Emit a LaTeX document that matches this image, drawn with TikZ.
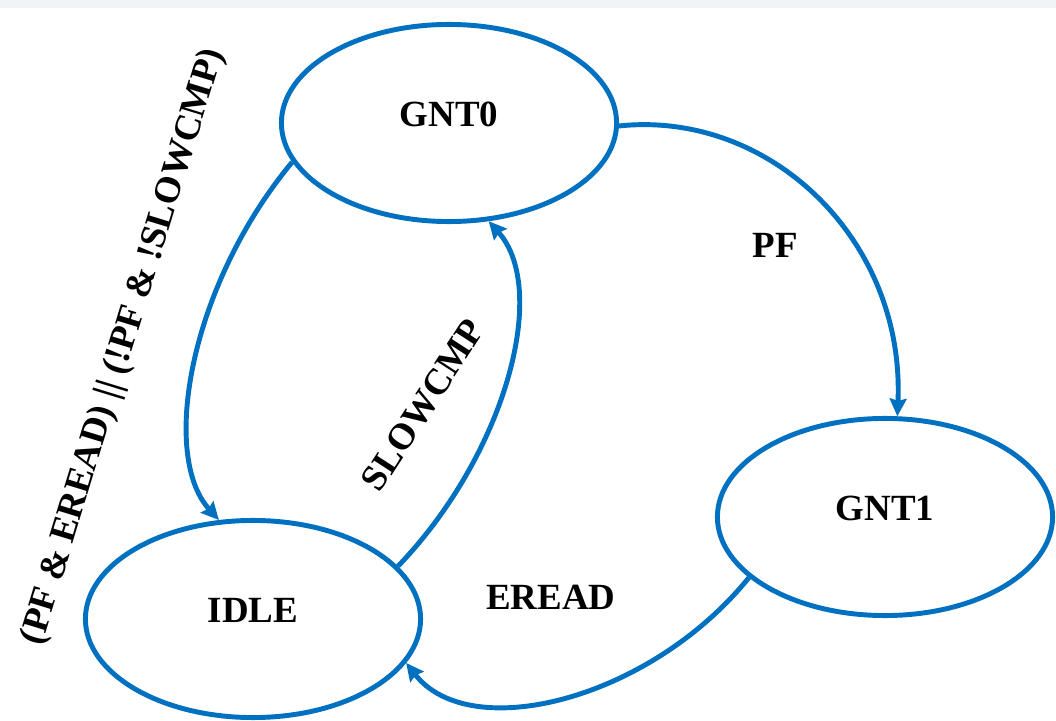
\documentclass[tikz,border=0pt]{standalone}
\usepackage{fontspec}
\setmainfont{Liberation Serif}
\usetikzlibrary{shapes.geometric}
\usetikzlibrary{arrows.meta}
\definecolor{fsmblue}{RGB}{0,112,192}
\definecolor{topbar}{RGB}{242,243,245}

\begin{document}
\begin{tikzpicture}[x=0.01cm,y=-0.01cm,
      statenode/.style={draw=fsmblue,line width=1.4pt,ellipse,inner sep=0pt,
        minimum width=3.35cm,minimum height=1.97cm,text depth=0.18cm,
        font=\fontsize{10.5}{12}\selectfont\bfseries},
      translabel/.style={font=\fontsize{10.5}{12}\selectfont\bfseries,inner sep=0pt},
      transition/.style={draw=fsmblue,line width=1.4pt,
        -{Stealth[length=5pt,width=4.8pt,inset=0.6pt]}}]
      \useasboundingbox (0,0) rectangle (1056,721);
      \fill[topbar] (0,0) rectangle (1056,8);

      % States
      \node[statenode] (gnt0) at (449,123) {GNT0};
      \node[statenode] (gnt1) at (885,517) {GNT1};
      \node[statenode] (idle) at (253,619) {IDLE};

      % Transitions
      \draw[transition] (gnt0.194.7) .. controls (190,285) and (160,455) .. (idle.109.4);
      \draw[transition] (idle.20.3) .. controls (505,455) and (550,290) .. (gnt0.292);
      \draw[transition] (gnt0.-1.2) .. controls (770,110) and (905,240) .. (gnt1.83.6);
      \draw[transition] (gnt1.204.2) .. controls (650,700) and (470,745) .. (idle.-16.4);

      % Labels
      \node[translabel] (pflabel) at (775,245) {PF};
      \node[translabel] (ereadlabel) at (551,597) {EREAD};
      \node[translabel,rotate=57] (slowlabel) at (423,405) {SLOWCMP};
      \node[translabel,rotate=73] (idlelabel) at (124,347) {(PF \& EREAD) || (!PF \& !SLOWCMP)};
    \end{tikzpicture}
\end{document}
